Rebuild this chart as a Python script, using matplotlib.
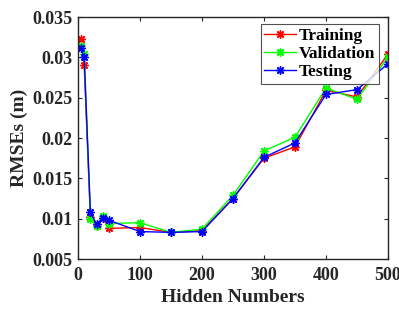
import matplotlib
matplotlib.use("Agg")
import matplotlib.pyplot as plt

hidden = [5, 10, 20, 30, 40, 50, 100, 150, 200, 250, 300, 350, 400, 450, 500]
training = [0.0323, 0.0290, 0.0102, 0.0091, 0.0101, 0.0088, 0.0089, 0.0083, 0.0085,
            0.0125, 0.0175, 0.0189, 0.0259, 0.0251, 0.0304]
validation = [0.0314, 0.0304, 0.0100, 0.0091, 0.0103, 0.0094, 0.0095, 0.0083, 0.0087,
              0.0129, 0.0184, 0.0201, 0.0262, 0.0248, 0.0300]
testing = [0.0311, 0.0300, 0.0108, 0.0093, 0.0101, 0.0098, 0.0084, 0.0083, 0.0084,
           0.0125, 0.0176, 0.0194, 0.0254, 0.0260, 0.0292]
xticks = [0, 100, 200, 300, 400, 500]
yticks = [0.005, 0.01, 0.015, 0.02, 0.025, 0.03, 0.035]
ytick_labels = ["0.005", "0.01", "0.015", "0.02", "0.025", "0.03", "0.035"]

plt.rcParams['font.family'] = ['Liberation Serif', 'DejaVu Serif']
plt.rcParams['font.weight'] = 'bold'

fig = plt.figure(figsize=(3.99, 3.09), dpi=100)
ax = fig.add_axes([78/399, 1 - 259/309, (388 - 78)/399, (259 - 17)/309])

mk = dict(marker=(8, 2, 0), markersize=6, markeredgewidth=1.0, lw=1)
ax.plot(hidden, training, color=(1, 0, 0), label='Training', **mk)
ax.plot(hidden, validation, color=(0, 1, 0), label='Validation', **mk)
ax.plot(hidden, testing, color=(0, 0, 1), label='Testing', **mk)

ax.set_xlim(0, 500)
ax.set_ylim(0.005, 0.035)
ax.set_xticks(xticks)
ax.set_xticklabels([str(t) for t in xticks], fontsize=13, fontweight='bold')
ax.set_yticks(yticks)
ax.set_yticklabels(ytick_labels, fontsize=13, fontweight='bold')
ax.tick_params(direction='in', top=True, right=True, length=3, width=0.8,
               colors='#262626', labelcolor='#262626')
ax.tick_params(axis='x', pad=6)
ax.tick_params(axis='y', pad=4)
for s in ax.spines.values():
    s.set_linewidth(1.0)
    s.set_color('#262626')

ax.set_xlabel('Hidden Numbers', fontsize=14, fontweight='bold', color='#262626', labelpad=3)
ax.set_ylabel('RMSEs (m)', fontsize=14, fontweight='bold', color='#262626', labelpad=3)

leg = ax.legend(loc='upper right', bbox_to_anchor=(0.971, 0.970), fontsize=12.5, frameon=True,
                fancybox=False, edgecolor='#262626', borderpad=0.2, labelspacing=0.12,
                handlelength=1.8, handletextpad=0.2, borderaxespad=0, numpoints=1)
leg.get_frame().set_linewidth(0.8)
for t in leg.get_texts():
    t.set_fontweight('bold')

fig.savefig('out.png', dpi=100)
